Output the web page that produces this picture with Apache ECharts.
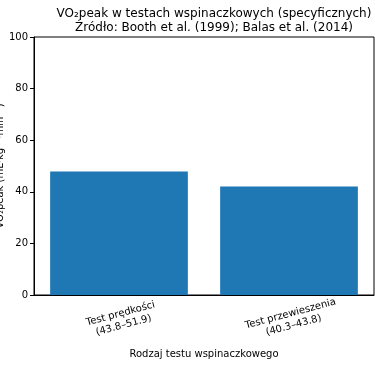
<!DOCTYPE html>
<html><head><meta charset="utf-8">
<script src="https://cdn.jsdelivr.net/npm/echarts@6/dist/echarts.min.js"></script>
<style>html,body{margin:0;padding:0;background:#fff}#c{width:375px;height:366px}</style>
</head><body><div id="c"></div>
<script>
const categories = ['Test prędkości\n(43.8–51.9)', 'Test przewieszenia\n(40.3–43.8)'];
const values = [47.85, 42.05];
const yTicks = [0, 20, 40, 60, 80, 100];
const titleText = 'VO₂peak w testach wspinaczkowych (specyficznych)\nŹródło: Booth et al. (1999); Balas et al. (2014)';
const xName = 'Rodzaj testu wspinaczkowego';
const yName = 'VO₂peak (mL·kg⁻¹·min⁻¹)';
const F = 'DejaVu Sans';
const chart = echarts.init(document.getElementById('c'), null, {renderer: 'canvas'});
chart.setOption({
  animation: false,
  title: {text: titleText, left: 209, top: 2, textAlign: 'center',
    textStyle: {fontFamily: F, fontSize: 12, fontWeight: 'normal', color: '#000', lineHeight: 14}},
  grid: {left: 34, right: 1, top: 37, bottom: 71, show: true, borderColor: '#000', borderWidth: 1,
    containLabel: false, outerBoundsMode: 'none'},
  xAxis: {type: 'category', data: categories,
    name: xName, nameLocation: 'middle', nameGap: 53,
    nameTextStyle: {fontFamily: F, fontSize: 10, color: '#000'},
    axisLine: {lineStyle: {color: '#000'}},
    axisTick: {alignWithLabel: true, length: 4, lineStyle: {color: '#000'}},
    axisLabel: {rotate: 15, fontFamily: F, fontSize: 10, color: '#000', margin: 13, align: 'center', verticalAlign: 'top', lineHeight: 12, interval: 0}},
  yAxis: {type: 'value', min: 0, max: 100, interval: 20,
    name: yName, nameLocation: 'middle', nameGap: 29, nameRotate: 90, nameMoveOverlap: false,
    nameTextStyle: {fontFamily: F, fontSize: 10, color: '#000'},
    splitLine: {show: false},
    axisLine: {show: true, lineStyle: {color: '#000'}},
    axisTick: {show: true, length: 4, lineStyle: {color: '#000'}},
    axisLabel: {fontFamily: F, fontSize: 10, color: '#000', margin: 6,
      formatter: v => yTicks.includes(v) ? String(v) : ''}},
  series: [{type: 'bar', data: values, barWidth: '81%', itemStyle: {color: '#1f77b4'}}]
});
</script></body></html>
